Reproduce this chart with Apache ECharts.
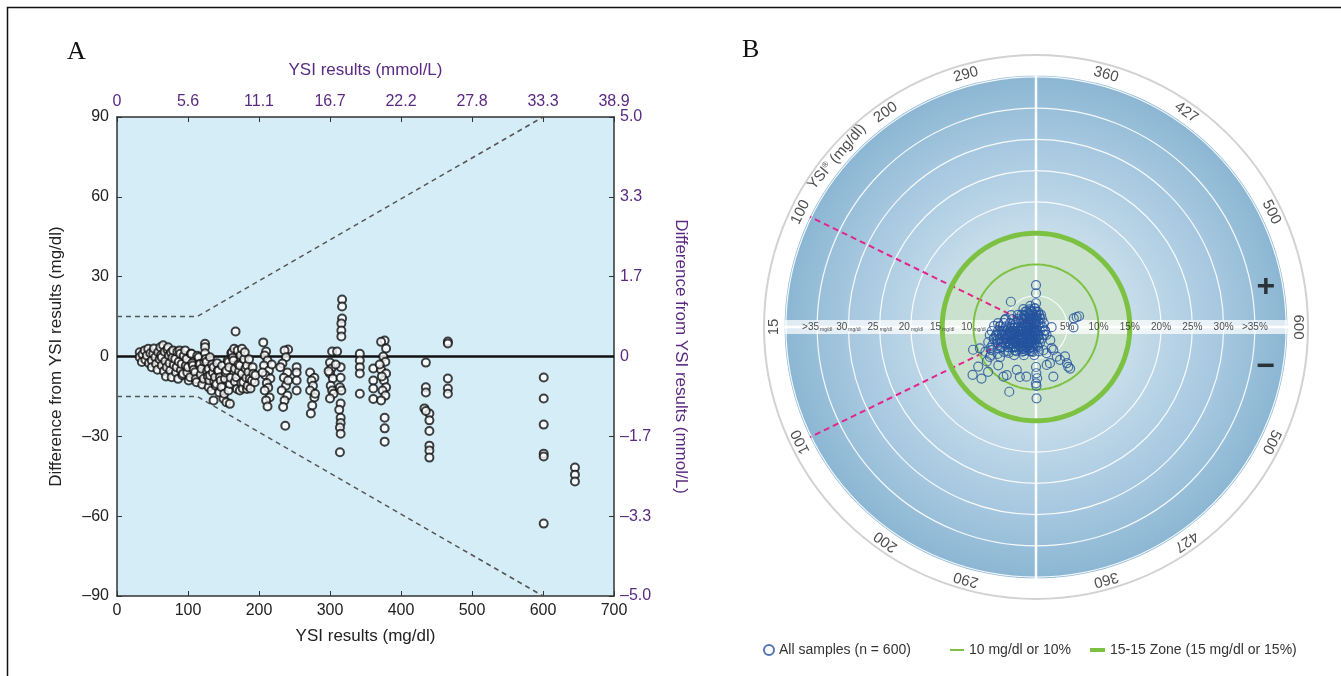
<!DOCTYPE html>
<html><head><meta charset="utf-8">
<script src="https://cdn.jsdelivr.net/npm/echarts@6/dist/echarts.min.js"></script>
<style>html,body{margin:0;padding:0;background:#fff}#c{width:1341px;height:676px}</style>
</head><body><div id="c"></div>
<script>
// ================= Panel A data =================
const aXTicksTop = ['0','5.6','11.1','16.7','22.2','27.8','33.3','38.9'];
const aYTicksRight = ['–5.0','–3.3','–1.7','0','1.7','3.3','5.0'];
const aLimitUpper = [[0,15],[113,15],[600,90]];
const aLimitLower = [[0,-15],[113,-15],[600,-90]];
const aZero = [[0,0],[700,0]];
const aSamples = [
[32,1.6],[32,-0.3],[35,-2.1],[36,0.8],[39,2.3],[40,-1.2],[42,0.4],[44,2.9],[45,-2.5],[47,1.2],[49,-1.5],[49,-4.0],[51,1.0],[52,3.0],[54,-0.3],[55,-2.8],[57,-5.0],[58,1.6],[60,-1.0],[61,3.5],[62,0.5],[63,-0.3],[63,-3.4],[65,4.2],[66,-5.5],[67,1.8],[68,-1.8],[69,-7.5],[70,-4.0],[71,2.6],[72,3.5],[73,0.4],[74,-2.5],[75,-5.3],[76,1.5],[77,-7.8],[78,-0.5],[79,2.3],[80,-3.2],[82,-0.9],[83,-6.0],[84,-4.0],[85,1.8],[86,-8.4],[87,-2.0],[88,2.3],[89,1.0],[90,-5.2],[91,-2.8],[92,-7.0],[93,-6.5],[94,0.3],[96,2.3],[97,-3.5],[98,-0.9],[99,-6.0],[100,-4.0],[101,-9.0],[103,-7.8],[104,1.0],[105,1.0],[106,-2.5],[107,-3.4],[108,-5.0],[110,-5.9],[111,-8.5],[112,-9.7],[113,0.3],[115,-0.3],[116,-3.0],[117,-2.8],[118,-6.8],[119,-4.6],[120,-10.5],[122,-8.4],[123,-2.0],[124,4.8],[124,3.5],[124,1.2],[125,-0.9],[126,-2.1],[127,-5.5],[128,-7.5],[129,-4.6],[129,-11.5],[130,-9.0],[131,-0.3],[131,-7.1],[133,-12.8],[134,-3.0],[135,-6.0],[136,-4.0],[136,-16.5],[137,-9.5],[138,-7.8],[139,-11.0],[140,-10.3],[141,-2.5],[142,-5.3],[143,-5.3],[144,-13.5],[145,-7.8],[146,-9.0],[147,-11.5],[148,-3.5],[150,-15.9],[151,-14.0],[152,-8.4],[153,-6.0],[154,-17.2],[154,-5.3],[156,-1.5],[157,-2.1],[157,-12.8],[158,-4.0],[159,-10.3],[159,-17.8],[160,-8.0],[161,1.2],[162,1.6],[163,-0.5],[164,-1.5],[165,2.9],[166,-4.6],[166,-9.5],[167,9.4],[168,-7.8],[169,-12.2],[170,2.3],[171,-3.0],[172,-5.5],[173,-3.4],[173,-12.8],[174,0.5],[175,-10.0],[176,2.9],[176,-6.5],[177,-12.0],[178,-9.7],[179,-1.0],[180,1.6],[181,-4.5],[182,-8.0],[183,-3.4],[183,-12.2],[184,-11.0],[185,-5.9],[186,-1.0],[187,-8.4],[188,-12.0],[190,-9.0],[191,-4.0],[192,-6.5],[194,-9.7],[195,-7.0],
[206,5.3],[210,1.9],[208,0.4],[212,-1.5],[207,-3.4],[214,-5.3],[209,-7.0],[216,-8.3],[211,-10.0],[213,-11.7],[208,-12.8],[215,-15.4],[210,-16.5],[212,-18.8],[205,-6.0],[218,-3.0],
[241,2.6],[236,2.3],[238,-0.3],[233,-2.6],[240,-6.0],[235,-8.0],[238,-11.0],[232,-12.8],[240,-14.7],[236,-16.5],[234,-19.0],[237,-26.0],[241,-9.0],[230,-4.0],
[253,-4.0],[253,-6.0],[253,-9.0],[253,-12.8],
[272,-6.0],[278,-8.0],[274,-9.0],[276,-11.0],[272,-12.8],[278,-15.4],[275,-18.4],[273,-21.4],[279,-14.0],
[317,21.4],[317,18.8],[317,14.3],[316,12.4],[316,9.8],[316,7.5],[303,1.9],[310,1.9],[300,-2.3],[302,-4.5],[300,-6.4],[304,-8.3],[301,-11.0],[303,-12.8],[305,-14.0],[300,-15.8],[315,-4.0],[315,-8.0],[314,-11.6],[316,-12.8],[315,-17.7],[313,-20.0],[315,-23.0],[315,-25.0],[314,-26.7],[315,-29.0],[314,-36.0],[298,-5.5],[308,-3.0],
[342,1.0],[342,-1.5],[342,-4.0],[342,-6.4],[342,-14.0],
[361,-4.5],[361,-9.0],[361,-12.0],[361,-16.0],
[377,6.0],[372,5.5],[379,3.0],[375,0.0],[378,-2.0],[372,-5.0],[379,-6.4],[376,-9.0],[379,-11.6],[374,-12.8],[378,-14.7],[372,-16.5],[377,-23.0],[377,-27.0],[377,-32.0],[370,-3.0],[373,-7.5],
[435,-2.3],[435,-11.6],[435,-13.5],[433,-19.5],[440,-21.4],[435,-20.5],[440,-24.0],[440,-28.0],[440,-33.5],[440,-35.3],[440,-38.0],
[466,5.6],[466,4.9],[466,-8.3],[466,-12.0],[466,-14.0],
[601,-7.9],[601,-15.8],[601,-25.6],[601,-36.5],[601,-37.6],[601,-62.8],
[645,-41.7],[645,-44.4],[645,-47.0]
];

// ================= Panel B data =================
const bYsiTicks = [15,100,200,290,360,427,500,600];
const bErrRadii = [5,10,15,20,25,30,35];
const bErrLabelsLeft = ['5','10','15','20','25','30','>35'];
const bErrLabelsRight = ['5%','10%','15%','20%','25%','30%','>35%'];
const bZone10 = 10;
const bZone15 = 15;
const bMgdlLimit = 100;
// [YSI mg/dl, signed error (mg/dl below 100, % above)]
const bSamples = [
[99,4.4],[127,3.5],[166,2.7],[239,2.1],[325,1.9],[384,2.1],
[64,5.0],[75,4.0],[93,3.2],[127,2.3],[193,1.6],[325,1.3],[432,1.6],
[34,6.1],[38,5.2],[43,4.2],[52,3.3],[67,2.3],[102,1.4],[238,0.7],[452,0.9],[498,1.4],
[20,6.7],[20,5.8],[19,4.8],[19,3.8],[19,2.9],[20,1.9],[22,1.0],[590,1.0],
[32,-7.1],[34,-6.1],[38,-5.2],[43,-4.2],[52,-3.3],[67,-2.3],[102,-1.4],[238,-0.7],[452,-0.9],[508,-1.6],
[47,-7.5],[52,-6.5],[58,-5.6],[67,-4.7],[80,-3.7],[102,-2.9],[143,-2.0],[239,-1.4],[357,-1.3],[452,-1.8],
[67,-7.0],[75,-6.1],[86,-5.2],[102,-4.3],[127,-3.5],[166,-2.7],[239,-2.1],[325,-1.9],[398,-2.1],
[89,-6.6],[102,-5.7],[120,-4.9],[143,-4.1],[179,-3.4],[239,-2.9],[309,-2.6],[357,-2.6],
[116,-6.3],[133,-5.5],[156,-4.8],[188,-4.1],[239,-3.6],[299,-3.3],[338,-3.2],
[150,-5.9],[184,-5.0],[239,-4.3],[303,-3.9],[340,-3.9],
[190,-5.7],[254,-4.9],[317,-4.5],
[343,2.4],[281,2.7],[40,-2.4],[127,-1.7],[106,-3.4],[271,-2.4],[59,-4.1],[49,1.8],[277,-1.5],[33,3.4],[78,2.9],[262,-3.1],[220,-4.1],[293,-0.7],
[325,6.7],[325,5.4],[166,5.7],[325,3.8],[318,3.0],[217,2.9],[359,2.0],[598,-2.5],[550,6.2],[547,6.7],[546,7.1],[598,-6.0],[57,5.1],
[80,-10.7],[83,-9.6],[129,-11.2],[160,-12.0],[138,-12.7],[159,-10.5],[124,-8.8],[105,-8.0],[131,-9.6],[167,-8.6],[208,-9.5],[217,-9.0],[258,-11.2],[250,-7.5],[279,-8.4],[300,-8.1],
[325,-6.4],[326,-7.4],[328,-8.2],[325,-9.0],[326,-9.4],[326,-11.4],[361,-6.3],[379,-6.2],[373,-8.4],[367,-3.9],[382,-4.5],[431,-4.2],[432,-4.6],[427,-5.8],[430,-6.5],[441,-7.6],[437,-8.2],[438,-8.6],[451,-6.6],[458,-3.1],[473,-2.1],[527,-1.5],
[80,-0.5],[223,-0.5],[348,-0.5],
[48,-1],[131,-1],[223,-1],[314,-1],[375,-1],
[31,-1.5],[96,-1.5],[166,-1.5],[246,-1.5],[314,-1.5],[358,-1.5],
[64,-2],[114,-2],[166,-2],[223,-2],[291,-2],[325,-2],[358,-2],
[31,-2.5],[71,-2.5],[110,-2.5],[152,-2.5],[193,-2.5],[246,-2.5],[296,-2.5],[323,-2.5],
[25,-3],[58,-3],[90,-3],[124,-3],[159,-3],[193,-3],[237,-3],[283,-3],[309,-3],[332,-3],
[22,-3.5],[51,-3.5],[80,-3.5],[110,-3.5],[141,-3.5],[173,-3.5],[205,-3.5],[246,-3.5],[287,-3.5],[309,-3.5],
[25,-4],[51,-4],[77,-4],[104,-4],[131,-4],[159,-4],[186,-4],[219,-4],[255,-4],[291,-4],[309,-4],
[31,-4.5],[58,-4.5],[84,-4.5],[110,-4.5],[138,-4.5],[166,-4.5],[193,-4.5],[228,-4.5],
[35,-5],[58,-5],[80,-5],[104,-5],[128,-5],[152,-5],[176,-5],
[41,-5.5],[64,-5.5],[87,-5.5],[110,-5.5],[135,-5.5],
[48,-6],[71,-6],[94,-6],
[54,-6.5],[77,-6.5],
[64,-7],[87,-7.5],[110,-7],[131,-7.5],[96,-8],[120,-8.5],[141,-6.5],[148,-7.5],[114,-6.5],[160,-6],[72,-8],[100,-9],
[148,0.5],[325,0.5],[465,0.5],
[80,1],[183,1],[302,1],[375,1],
[64,1.5],[131,1.5],[200,1.5],[291,1.5],[336,1.5],[393,1.5],
[96,2],[155,2],[219,2],[293,2],[332,2],
[114,2.5],[166,2.5],[223,2.5],[291,2.5],[325,2.5],
[148,3],[200,3],[269,3],[314,3],
[200,3.5],[291,3.5]
];

// ================= configuration =================
const FONT = "'Liberation Sans',Arial,sans-serif";
const PURPLE = '#5a2a80';
const GREEN = '#7dc143';
// angular scale of panel B: angle (deg, from the left, clockwise) at each YSI tick
const ANGLE_AT_TICK = [0, 26, 55, 74.5, 105.5, 125, 154, 180];
function ysiAngle(v){
  for (let i=0;i<bYsiTicks.length-1;i++){
    if (v <= bYsiTicks[i+1] || i===bYsiTicks.length-2){
      const t = (v - bYsiTicks[i])/(bYsiTicks[i+1]-bYsiTicks[i]);
      return ANGLE_AT_TICK[i] + t*(ANGLE_AT_TICK[i+1]-ANGLE_AT_TICK[i]);
    }
  }
}
const R_MAX = 43.5, R_DISK = 40.2, R_LABEL = 41.9;
function circle(r){ const d=[]; for(let a=0;a<=360;a+=2) d.push([r,a]); return d; }

const bPoints = bSamples.map(([y,e]) => {
  const a = ysiAngle(y);
  return [Math.abs(e), e >= 0 ? a : 360 - a];
});

const bandData = [];
bErrRadii.forEach((r,i)=>{
  bandData.push({value:[r,0], label:{formatter:'{n|'+bErrLabelsLeft[i]+'}{u|mg/dl}'}});
  bandData.push({value:[r,180], label:{formatter:'{n|'+bErrLabelsRight[i]+'}'}});
});

const ringLabels = [];
bYsiTicks.forEach((t,i)=>{
  const a = ysiAngle(t);
  ringLabels.push({value:[R_LABEL,a], label:{formatter:String(t), rotate: 90 - a}});
  if (a > 0 && a < 180) ringLabels.push({value:[R_LABEL,360-a], label:{formatter:String(t), rotate: a - 270}});
});
const nameA = (ysiAngle(100)+ysiAngle(200))/2;
ringLabels.push({value:[R_LABEL,nameA], label:{formatter:'YSI{s|®} (mg/dl)', rotate: 90-nameA}});
ringLabels.push({value:[37.3,170.2], label:{formatter:'+', rotate:0, fontSize:32, fontWeight:'bold', color:'#111'}});
ringLabels.push({value:[37.3,189.8], label:{formatter:'−', rotate:0, fontSize:32, fontWeight:'bold', color:'#111'}});

const pinkUp = [[0, ysiAngle(bMgdlLimit)], [R_DISK, ysiAngle(bMgdlLimit)]];
const pinkDn = [[0, 360-ysiAngle(bMgdlLimit)], [R_DISK, 360-ysiAngle(bMgdlLimit)]];

const axisTxt = {fontFamily:FONT, fontSize:16, color:'#222'};
const legendTxt = {fontFamily:FONT, fontSize:14, color:'#333'};
const chart = echarts.init(document.getElementById('c'));
chart.setOption({
  animation:false,
  title:[
    {text:'A', left:62, top:34, textStyle:{fontFamily:"'Liberation Serif','DejaVu Serif',serif", fontSize:26, fontWeight:'normal', color:'#111'}},
    {text:'B', left:737, top:32, textStyle:{fontFamily:"'Liberation Serif','DejaVu Serif',serif", fontSize:26, fontWeight:'normal', color:'#111'}}
  ],
  graphic:[{type:'rect', shape:{x:7.5,y:7.5,width:1350,height:690}, style:{fill:'none', stroke:'#111', lineWidth:1.5}, silent:true, z:100}],
  grid:{left:117, top:117, right:727, bottom:80, show:true, backgroundColor:'#d5edf7', borderWidth:0},
  xAxis:[
    {type:'value', min:0, max:700, interval:100, position:'bottom',
     axisLine:{show:true, onZero:false, lineStyle:{color:'#333', width:1.5}},
     axisTick:{show:true, inside:true, length:5, lineStyle:{color:'#333'}},
     axisLabel:Object.assign({margin:7}, axisTxt),
     splitLine:{show:false},
     name:'YSI results (mg/dl)', nameLocation:'middle', nameGap:32,
     nameTextStyle:{fontFamily:FONT, fontSize:17, color:'#222'}},
    {type:'value', min:0, max:700, interval:100, position:'top',
     axisLine:{show:true, onZero:false, lineStyle:{color:'#333', width:1.5}},
     axisTick:{show:true, inside:true, length:5, lineStyle:{color:'#333'}},
     axisLabel:Object.assign({margin:7, formatter:v=>aXTicksTop[Math.round(v/100)]}, axisTxt, {color:PURPLE}),
     splitLine:{show:false},
     name:'YSI results (mmol/L)', nameLocation:'middle', nameGap:38,
     nameTextStyle:{fontFamily:FONT, fontSize:17, color:PURPLE}}
  ],
  yAxis:[
    {type:'value', min:-90, max:90, interval:30, position:'left',
     axisLine:{show:true, onZero:false, lineStyle:{color:'#333', width:1.5}},
     axisTick:{show:true, inside:true, length:5, lineStyle:{color:'#333'}},
     axisLabel:Object.assign({margin:8, formatter:v=> v<0 ? '–'+Math.abs(v) : String(v)}, axisTxt),
     splitLine:{show:false},
     name:'Difference from YSI results (mg/dl)', nameLocation:'middle', nameGap:52,
     nameTextStyle:{fontFamily:FONT, fontSize:17, color:'#222'}},
    {type:'value', min:-90, max:90, interval:30, position:'right',
     axisLine:{show:true, onZero:false, lineStyle:{color:'#333', width:1.5}},
     axisTick:{show:true, inside:true, length:5, lineStyle:{color:'#333'}},
     axisLabel:Object.assign({margin:6, formatter:v=>aYTicksRight[Math.round((v+90)/30)]}, axisTxt, {color:PURPLE}),
     splitLine:{show:false},
     name:'Difference from YSI results (mmol/L)', nameLocation:'middle', nameGap:58, nameRotate:-90,
     nameTextStyle:{fontFamily:FONT, fontSize:17, color:PURPLE}}
  ],
  polar:{center:[1036,327], radius:272},
  radiusAxis:{type:'value', min:0, max:R_MAX, interval:5,
    axisLine:{show:false}, axisTick:{show:false}, axisLabel:{show:false},
    splitLine:{show:true, lineStyle:{color:'rgba(255,255,255,0.9)', width:1.2}}},
  angleAxis:{type:'value', min:0, max:360, interval:90, startAngle:180, clockwise:true,
    axisLine:{show:true, lineStyle:{color:'#d2d2d2', width:2}}, axisTick:{show:false}, axisLabel:{show:false},
    splitLine:{show:true, lineStyle:{color:'rgba(255,255,255,0.95)', width:2.5}}},
  legend:[
    {data:[{name:'All samples (n = 600)', icon:'circle'}], left:758, top:638, itemWidth:10, itemHeight:10, textStyle:legendTxt},
    {data:[{name:'10 mg/dl or 10%', icon:'rect'}], left:945, top:638, itemWidth:14, itemHeight:2, textStyle:legendTxt},
    {data:[{name:'15-15 Zone (15 mg/dl or 15%)', icon:'rect'}], left:1085, top:638, itemWidth:15, itemHeight:4, textStyle:legendTxt}
  ],
  series:[
    // ----- panel A -----
    {type:'line', xAxisIndex:0, yAxisIndex:0, data:aLimitUpper, symbol:'none', silent:true, z:3,
     lineStyle:{color:'#555', width:1.5, type:[5,4]}},
    {type:'line', xAxisIndex:0, yAxisIndex:0, data:aLimitLower, symbol:'none', silent:true, z:3,
     lineStyle:{color:'#555', width:1.5, type:[5,4]}},
    {type:'line', xAxisIndex:0, yAxisIndex:0, data:aZero, symbol:'none', silent:true, z:4,
     lineStyle:{color:'#111', width:2.5}},
    {type:'scatter', name:'A samples', xAxisIndex:0, yAxisIndex:0, data:aSamples, symbol:'circle', symbolSize:8, z:5,
     itemStyle:{color:'#ffffff', borderColor:'#111', borderWidth:2}},
    // ----- panel B -----
    {type:'line', coordinateSystem:'polar', data:circle(R_DISK), symbol:'none', silent:true, z:-2,
     lineStyle:{width:0, opacity:0},
     areaStyle:{opacity:1, color:new echarts.graphic.RadialGradient(0.5,0.5,0.5,[
       {offset:0, color:'#dfecf5'},{offset:0.4, color:'#c4dbea'},{offset:0.75, color:'#a5c7df'},{offset:1, color:'#8bb6d3'}])}},
    {type:'line', coordinateSystem:'polar', data:circle(bZone15), symbol:'none', silent:true, z:-1,
     lineStyle:{width:0, opacity:0}, areaStyle:{opacity:1, color:'#c9e1cd'}},
    {type:'line', coordinateSystem:'polar', data:[[R_DISK,0],[0,0],[R_DISK,180]], symbol:'none', silent:true, z:1,
     lineStyle:{width:14, color:'rgba(255,255,255,0.72)', cap:'butt'}},
    {type:'line', coordinateSystem:'polar', data:pinkUp, symbol:'none', silent:true, z:2,
     lineStyle:{width:2, color:'#e3258a', type:[6,4]}},
    {type:'line', coordinateSystem:'polar', data:pinkDn, symbol:'none', silent:true, z:2,
     lineStyle:{width:2, color:'#e3258a', type:[6,4]}},
    {type:'line', name:'10 mg/dl or 10%', coordinateSystem:'polar', data:circle(bZone10), symbol:'none', silent:true, z:3,
     itemStyle:{color:GREEN}, lineStyle:{width:2, color:GREEN}},
    {type:'line', name:'15-15 Zone (15 mg/dl or 15%)', coordinateSystem:'polar', data:circle(bZone15), symbol:'none', silent:true, z:3,
     itemStyle:{color:GREEN}, lineStyle:{width:5, color:GREEN}},
    {type:'scatter', coordinateSystem:'polar', data:bandData, symbolSize:1, silent:true, z:4,
     itemStyle:{color:'rgba(0,0,0,0)'},
     label:{show:true, position:'inside', color:'#222', fontFamily:FONT,
       rich:{n:{fontSize:10, fontFamily:FONT, color:'#222'}, u:{fontSize:5, fontFamily:FONT, color:'#222', verticalAlign:'bottom', padding:[3,0,0,1]}}}},
    {type:'scatter', coordinateSystem:'polar', data:ringLabels, symbolSize:1, silent:true, z:4,
     itemStyle:{color:'rgba(0,0,0,0)'},
     label:{show:true, position:'inside', color:'#222', fontFamily:FONT, fontSize:15,
       rich:{s:{fontSize:8, fontFamily:FONT, color:'#222', verticalAlign:'top', padding:[0,0,6,0]}}}},
    {type:'scatter', name:'All samples (n = 600)', coordinateSystem:'polar', data:bPoints, symbol:'circle', symbolSize:9, z:6,
     itemStyle:{color:'rgba(255,255,255,0)', borderColor:'#24529e', borderWidth:1.2}}
  ]
});
</script></body></html>
